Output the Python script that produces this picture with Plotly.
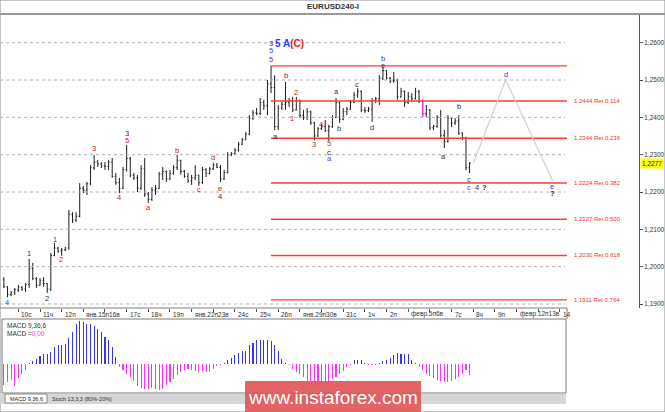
import plotly.graph_objects as go

W, H = 665, 412
FONT = "Liberation Sans, Arial, sans-serif"

# ---------------- data (EURUSD, 4H bars) ----------------
bar_open = [1.1965, 1.1946, 1.1925, 1.1930, 1.1938, 1.1945, 1.1940, 1.1952, 1.1995, 1.1968,
            1.1950, 1.1962, 1.1955, 1.1940, 1.2030, 1.2050, 1.2042, 1.2045, 1.2050, 1.2140,
            1.2125, 1.2135, 1.2210, 1.2205, 1.2222, 1.2265, 1.2280, 1.2275, 1.2270, 1.2268,
            1.2280, 1.2242, 1.2225, 1.2210, 1.2260, 1.2290, 1.2245, 1.2238, 1.2210, 1.2262,
            1.2195, 1.2180, 1.2205, 1.2210, 1.2248, 1.2255, 1.2235, 1.2250, 1.2265, 1.2285,
            1.2255, 1.2242, 1.2230, 1.2238, 1.2245, 1.2225, 1.2260, 1.2250, 1.2262, 1.2272,
            1.2266, 1.2235, 1.2252, 1.2300, 1.2303, 1.2312, 1.2328, 1.2340, 1.2355, 1.2398,
            1.2412, 1.2410, 1.2440, 1.2430, 1.2490, 1.2480, 1.2375, 1.2425, 1.2435, 1.2440,
            1.2445, 1.2420, 1.2445, 1.2405, 1.2400, 1.2415, 1.2385, 1.2350, 1.2370, 1.2375,
            1.2365, 1.2375, 1.2400, 1.2440, 1.2395, 1.2415, 1.2422, 1.2440, 1.2460, 1.2470,
            1.2420, 1.2418, 1.2422, 1.2445, 1.2450, 1.2505, 1.2525, 1.2505, 1.2497, 1.2500,
            1.2455, 1.2470, 1.2440, 1.2455, 1.2450, 1.2470, 1.2445, 1.2410, 1.2420, 1.2372,
            1.2376, 1.2400, 1.2352, 1.2335, 1.2398, 1.2385, 1.2390, 1.2358, 1.2345, 1.2265]
bar_high = [1.1972, 1.1948, 1.1935, 1.1943, 1.1951, 1.1948, 1.1956, 1.2021, 1.2010, 1.1972,
            1.1970, 1.1972, 1.1956, 1.2037, 1.2063, 1.2053, 1.2050, 1.2053, 1.2152, 1.2146,
            1.2146, 1.2224, 1.2216, 1.2227, 1.2272, 1.2299, 1.2286, 1.2280, 1.2280, 1.2286,
            1.2291, 1.2251, 1.2238, 1.2267, 1.2326, 1.2294, 1.2251, 1.2246, 1.2272, 1.2291,
            1.2200, 1.2213, 1.2219, 1.2254, 1.2267, 1.2258, 1.2259, 1.2272, 1.2299, 1.2286,
            1.2259, 1.2251, 1.2246, 1.2272, 1.2246, 1.2267, 1.2264, 1.2267, 1.2278, 1.2278,
            1.2272, 1.2259, 1.2307, 1.2307, 1.2318, 1.2334, 1.2345, 1.2361, 1.2406, 1.2420,
            1.2425, 1.2452, 1.2447, 1.2500, 1.2538, 1.2513, 1.2433, 1.2441, 1.2495, 1.2452,
            1.2455, 1.2455, 1.2448, 1.2420, 1.2425, 1.2418, 1.2388, 1.2374, 1.2382, 1.2393,
            1.2380, 1.2406, 1.2452, 1.2442, 1.2425, 1.2428, 1.2447, 1.2468, 1.2479, 1.2472,
            1.2428, 1.2428, 1.2452, 1.2455, 1.2513, 1.2535, 1.2527, 1.2508, 1.2522, 1.2503,
            1.2479, 1.2472, 1.2468, 1.2465, 1.2479, 1.2473, 1.2447, 1.2433, 1.2422, 1.2380,
            1.2406, 1.2420, 1.2366, 1.2406, 1.2400, 1.2398, 1.2406, 1.2360, 1.2348, 1.2280]
bar_low = [1.1943, 1.1918, 1.1921, 1.1924, 1.1932, 1.1935, 1.1932, 1.1943, 1.1964, 1.1943,
           1.1948, 1.1946, 1.1930, 1.1935, 1.2028, 1.2037, 1.2029, 1.2042, 1.2045, 1.2117,
           1.2120, 1.2132, 1.2197, 1.2192, 1.2219, 1.2259, 1.2267, 1.2264, 1.2259, 1.2259,
           1.2238, 1.2219, 1.2197, 1.2208, 1.2255, 1.2240, 1.2232, 1.2200, 1.2205, 1.2187,
           1.2171, 1.2176, 1.2192, 1.2208, 1.2232, 1.2227, 1.2232, 1.2246, 1.2259, 1.2246,
           1.2238, 1.2224, 1.2219, 1.2232, 1.2216, 1.2222, 1.2240, 1.2247, 1.2259, 1.2264,
           1.2227, 1.2232, 1.2250, 1.2296, 1.2299, 1.2308, 1.2326, 1.2339, 1.2352, 1.2393,
           1.2406, 1.2406, 1.2420, 1.2406, 1.2465, 1.2366, 1.2366, 1.2420, 1.2420, 1.2428,
           1.2414, 1.2418, 1.2398, 1.2393, 1.2393, 1.2380, 1.2339, 1.2348, 1.2366, 1.2361,
           1.2337, 1.2372, 1.2398, 1.2385, 1.2392, 1.2406, 1.2420, 1.2438, 1.2452, 1.2414,
           1.2412, 1.2414, 1.2388, 1.2438, 1.2433, 1.2500, 1.2500, 1.2492, 1.2492, 1.2447,
           1.2452, 1.2428, 1.2436, 1.2441, 1.2448, 1.2438, 1.2401, 1.2401, 1.2366, 1.2366,
           1.2372, 1.2345, 1.2318, 1.2332, 1.2374, 1.2380, 1.2353, 1.2339, 1.2259, 1.2251]
bar_close = [1.1946, 1.1925, 1.1930, 1.1938, 1.1945, 1.1940, 1.1952, 1.1995, 1.1968, 1.1950,
             1.1962, 1.1955, 1.1940, 1.2030, 1.2050, 1.2042, 1.2045, 1.2050, 1.2140, 1.2125,
             1.2135, 1.2210, 1.2205, 1.2222, 1.2265, 1.2280, 1.2275, 1.2270, 1.2268, 1.2280,
             1.2242, 1.2225, 1.2210, 1.2260, 1.2290, 1.2245, 1.2238, 1.2210, 1.2262, 1.2195,
             1.2180, 1.2205, 1.2210, 1.2248, 1.2255, 1.2235, 1.2250, 1.2265, 1.2285, 1.2255,
             1.2242, 1.2230, 1.2238, 1.2245, 1.2225, 1.2260, 1.2250, 1.2262, 1.2272, 1.2266,
             1.2235, 1.2252, 1.2300, 1.2303, 1.2312, 1.2328, 1.2340, 1.2355, 1.2398, 1.2412,
             1.2410, 1.2440, 1.2430, 1.2490, 1.2480, 1.2375, 1.2425, 1.2435, 1.2440, 1.2445,
             1.2420, 1.2445, 1.2405, 1.2400, 1.2415, 1.2385, 1.2350, 1.2370, 1.2375, 1.2365,
             1.2375, 1.2400, 1.2440, 1.2395, 1.2415, 1.2422, 1.2440, 1.2460, 1.2470, 1.2420,
             1.2418, 1.2422, 1.2445, 1.2450, 1.2505, 1.2525, 1.2505, 1.2497, 1.2500, 1.2455,
             1.2470, 1.2440, 1.2455, 1.2450, 1.2470, 1.2445, 1.2410, 1.2420, 1.2372, 1.2376,
             1.2400, 1.2352, 1.2335, 1.2398, 1.2385, 1.2390, 1.2358, 1.2345, 1.2265, 1.2277]
highlight_bars = [116]

macd_hist = [-0.0021, -0.0018, -0.0016, -0.0022, -0.0014, -0.0010, -0.0006, 0.0001, 0.0003, 0.0005,
             0.0008, 0.0010, 0.0010, 0.0012, 0.0017, 0.0019, 0.0019, 0.0020, 0.0026, 0.0032,
             0.0040, 0.0043, 0.0042, 0.0040, 0.0040, 0.0038, 0.0035, 0.0032, 0.0027, 0.0024,
             0.0017, 0.0007, -0.0003, -0.0006, -0.0010, -0.0013, -0.0017, -0.0022, -0.0024, -0.0025,
             -0.0025, -0.0024, -0.0025, -0.0026, -0.0025, -0.0021, -0.0018, -0.0015, -0.0011, -0.0008,
             -0.0006, -0.0005, -0.0006, -0.0007, -0.0008, -0.0007, -0.0008, -0.0008, -0.0005, -0.0002,
             -0.0001, 0.0001, 0.0004, 0.0006, 0.0009, 0.0011, 0.0013, 0.0013, 0.0019, 0.0021,
             0.0024, 0.0024, 0.0024, 0.0024, 0.0023, 0.0019, 0.0013, 0.0005, 0.0001, -0.0001,
             -0.0005, -0.0008, -0.0010, -0.0013, -0.0019, -0.0021, -0.0022, -0.0022, -0.0021, -0.0019,
             -0.0017, -0.0015, -0.0013, -0.0010, -0.0007, -0.0003, -0.0001, 0.0004, 0.0004, 0.0004,
             0.0001, -0.0001, -0.0001, -0.0001, 0.0001, 0.0003, 0.0004, 0.0006, 0.0009, 0.0011,
             0.0010, 0.0010, 0.0010, 0.0004, 0.0001, -0.0003, -0.0006, -0.0010, -0.0012, -0.0014,
             -0.0016, -0.0017, -0.0018, -0.0018, -0.0017, -0.0015, -0.0013, -0.0010, -0.0006, -0.0011]

price_ticks = [1.19, 1.20, 1.21, 1.22, 1.23, 1.24, 1.25, 1.26]
price_tick_labels = ["1,1900", "1,2000", "1,2100", "1,2200", "1,2300", "1,2400", "1,2500", "1,2600"]
last_price = 1.2277
last_price_label = "1,2277"

day_labels = ["10с", "11ч", "12п", "янв.15п16в", "", "17с", "18ч", "19п", "янв.22п23в", "",
              "24с", "25ч", "26п", "янв.29п30в", "", "31с", "1ч", "2п", "февр.5п6в", "",
              "7с", "8ч", "9п", "февр.12п13в", "", "14"]
first_day_bar = 4
bars_per_day = 6

fib_top = 1.2538
fib_levels = [1.2444, 1.2344, 1.2224, 1.2127, 1.2030, 1.1911]
fib_ratio_labels = ["0,114", "0,236", "0,382", "0,500", "0,618", "0,764"]

projection_bar = [130, 139, 152]
projection_price = [1.2277, 1.2501, 1.2230]

RED, BLUE, DARK = "#c42020", "#3c3cff", "#333333"
wave_labels = [
    ("4", 0.9, 1.1905, BLUE), ("1", 7.0, 1.2034, DARK), ("2", 12.0, 1.1916, DARK),
    ("1", 14.2, 1.2074, RED), ("2", 15.8, 1.2018, RED), ("3", 25.0, 1.2317, RED),
    ("4", 31.8, 1.2186, RED), ("3", 34.0, 1.2358, DARK), ("5", 34.0, 1.2339, RED),
    ("a", 40.0, 1.2158, RED), ("b", 48.0, 1.2311, RED), ("c", 54.0, 1.2207, RED),
    ("d", 58.0, 1.2293, RED), ("e", 59.9, 1.2210, RED), ("4", 59.9, 1.2189, DARK),
    ("3", 73.9, 1.2597, DARK), ("5", 73.9, 1.2579, BLUE), ("5", 73.9, 1.2556, "#7a3a20"),
    ("b", 78.1, 1.2511, DARK), ("a", 75.1, 1.2348, DARK), ("2", 80.9, 1.2466, RED),
    ("1", 79.9, 1.2396, RED), ("3", 86.0, 1.2326, "#a0402a"), ("4", 87.8, 1.2381, RED),
    ("5", 90.1, 1.2329, "#a0402a"), ("c", 90.1, 1.2307, DARK), ("a", 90.1, 1.2291, BLUE),
    ("a", 92.0, 1.2469, DARK), ("b", 92.8, 1.2371, DARK), ("c", 97.9, 1.2489, DARK),
    ("d", 101.9, 1.2373, DARK), ("b", 105.0, 1.2558, BLUE), ("e", 105.0, 1.2540, DARK),
    ("a", 121.9, 1.2296, DARK), ("b", 126.0, 1.2429, DARK), ("c", 128.9, 1.2234, DARK),
    ("c", 128.9, 1.2213, BLUE), ("4", 131.0, 1.2213, DARK), ("<b>?</b>", 133.0, 1.2213, DARK),
    ("d", 139.0, 1.2516, BLUE), ("e", 151.9, 1.2214, BLUE), ("<b>?</b>", 151.9, 1.2195, DARK),
]
main_wave_label = ("<span style='color:#2a3cff'>5 A</span><span style='color:#e02020'>(C)</span>", 79.2, 1.2597)

# ---------------- pixel geometry helpers ----------------
BAR0_PX, BAR_STEP_PX = 3.9, 3.61          # x pixel of the first bar, pixels per bar
P_REF, P_REF_PX, PX_PER_UNIT = 1.26, 42.7, 3733.0


def bar_at(px):
    return (px - BAR0_PX) / BAR_STEP_PX


def price_at(py):
    return P_REF - (py - P_REF_PX) / PX_PER_UNIT


def fx(px):
    return px / W


def fy(py):
    return 1 - py / H


n = len(bar_close)
bars = list(range(n))
day_ticks = [first_day_bar + bars_per_day * k for k in range(len(day_labels))]

fig = go.Figure()

# dotted price grid
grid_x = [bar_at(0), bar_at(565)]
for lv in price_ticks:
    fig.add_trace(go.Scatter(x=grid_x, y=[lv, lv], mode="lines",
                             line=dict(color="#b0b0b0", width=1, dash="dot"),
                             hoverinfo="skip", showlegend=False))

# fibonacci retracement lines
peak_bar = bar_high.index(max(bar_high))
fib_x = [peak_bar, bar_at(567)]
for lv in [fib_top] + fib_levels:
    fig.add_trace(go.Scatter(x=fib_x, y=[lv, lv], mode="lines",
                             line=dict(color="#ff3a3a", width=1.4),
                             hoverinfo="skip", showlegend=False))

# projection path
fig.add_trace(go.Scatter(x=projection_bar, y=projection_price, mode="lines",
                         line=dict(color="#d6cdd8", width=1.2),
                         hoverinfo="skip", showlegend=False))

# price bars
fig.add_trace(go.Ohlc(x=bars, open=bar_open, high=bar_high, low=bar_low, close=bar_close,
                      increasing=dict(line=dict(color="#1e1e1e", width=1)),
                      decreasing=dict(line=dict(color="#1e1e1e", width=1)),
                      tickwidth=0.3, hoverinfo="skip", showlegend=False))
fig.add_trace(go.Ohlc(x=highlight_bars,
                      open=[bar_open[i] for i in highlight_bars],
                      high=[bar_high[i] for i in highlight_bars],
                      low=[bar_low[i] for i in highlight_bars],
                      close=[bar_close[i] for i in highlight_bars],
                      increasing=dict(line=dict(color="#ff30ff", width=1.3)),
                      decreasing=dict(line=dict(color="#ff30ff", width=1.3)),
                      tickwidth=0.3, hoverinfo="skip", showlegend=False))

# MACD histogram
fig.add_trace(go.Bar(x=bars, y=macd_hist, width=0.3,
                     marker=dict(color=["#3535f5" if v > 0 else "#ff30ff" for v in macd_hist],
                                 line=dict(width=0)),
                     xaxis="x2", yaxis="y2", hoverinfo="skip", showlegend=False))

ann = []
# title
ann.append(dict(text="<b>EURUSD240-I</b>", x=0.5, y=fy(7), xref="paper", yref="paper",
                xanchor="center", yanchor="middle",
                showarrow=False, font=dict(family=FONT, size=8, color="#333")))
# day labels
for t, lab in zip(day_ticks, day_labels):
    if lab:
        ann.append(dict(text=lab, x=t + 0.3, y=fy(314), xref="x", yref="paper",
                        xanchor="left", yanchor="middle", showarrow=False,
                        font=dict(family=FONT, size=6.5, color="#333")))
# fib labels
for lv, r in zip(fib_levels, fib_ratio_labels):
    txt = f"{lv:.4f}".replace(".", ",") + " Ret " + r
    ann.append(dict(text=txt, x=bar_at(571.5), y=lv, xref="x", yref="y",
                    xanchor="left", yanchor="middle", showarrow=False,
                    font=dict(family=FONT, size=6, color="#f03030")))
# wave labels
for txt, b, p, c in wave_labels:
    ann.append(dict(text=txt, x=b, y=p, xref="x", yref="y", showarrow=False,
                    xanchor="center", yanchor="middle",
                    font=dict(family=FONT, size=7.5, color=c)))
ann.append(dict(text="<b>" + main_wave_label[0] + "</b>", x=main_wave_label[1], y=main_wave_label[2],
                xref="x", yref="y", showarrow=False, xanchor="center", yanchor="middle",
                font=dict(family=FONT, size=10)))
# current price tag
ann.append(dict(text=last_price_label, x=fx(640), y=last_price, xref="paper", yref="y",
                xanchor="left", yanchor="middle", showarrow=False, bgcolor="#ffff00",
                borderpad=1, font=dict(family=FONT, size=6.5, color="#222")))
# MACD labels
ann.append(dict(text="MACD 9,36,6", x=fx(5), y=fy(325), xref="paper", yref="paper",
                xanchor="left", yanchor="middle", showarrow=False,
                font=dict(family=FONT, size=6.5, color="#333")))
ann.append(dict(text="MACD =<span style='color:#ff30ff'>0,00</span>", x=fx(5), y=fy(333),
                xref="paper", yref="paper", xanchor="left", yanchor="middle", showarrow=False,
                font=dict(family=FONT, size=6.5, color="#333")))
# tabs
ann.append(dict(text="MACD 9,36,6", x=fx(8), y=fy(398.5), xref="paper", yref="paper",
                xanchor="left", yanchor="middle", showarrow=False,
                font=dict(family=FONT, size=5.5, color="#222")))
ann.append(dict(text="Stoch 13,3,3 (80%-20%)", x=fx(50), y=fy(398.5), xref="paper", yref="paper",
                xanchor="left", yanchor="middle", showarrow=False,
                font=dict(family=FONT, size=5.5, color="#333")))
# watermark
ann.append(dict(text="www.instaforex.com", x=fx(333), y=fy(397), xref="paper", yref="paper",
                xanchor="center", yanchor="middle", showarrow=False,
                font=dict(family=FONT, size=19, color="white")))

line_c = "#7a7a7a"
shapes = [
    dict(type="rect", xref="paper", yref="paper", x0=0, x1=1, y0=0, y1=1,
         line=dict(color="#8a8a8a", width=1)),
    dict(type="line", xref="paper", yref="paper", x0=0, x1=1, y0=fy(14), y1=fy(14),
         line=dict(color="#9a9a9a", width=2)),
    dict(type="line", xref="paper", yref="paper", x0=0, x1=fx(567), y0=fy(308), y1=fy(308),
         line=dict(color=line_c, width=1)),
    dict(type="line", xref="paper", yref="paper", x0=fx(567), x1=fx(567), y0=fy(308), y1=fy(319),
         line=dict(color=line_c, width=1)),
    dict(type="rect", xref="paper", yref="paper", x0=fx(2), x1=fx(566), y0=fy(393), y1=fy(319),
         line=dict(color=line_c, width=1)),
    dict(type="rect", xref="paper", yref="paper", x0=0, x1=fx(566), y0=fy(404), y1=fy(394),
         fillcolor="#d6d6d6", line=dict(width=0)),
    dict(type="rect", xref="paper", yref="paper", x0=fx(5), x1=fx(47), y0=fy(403), y1=fy(394),
         fillcolor="#ffffff", line=dict(color="#888", width=1)),
    dict(type="rect", xref="paper", yref="paper", x0=fx(245), x1=fx(421), y0=fy(413), y1=fy(381),
         fillcolor="#e05858", opacity=0.93, line=dict(width=0), layer="above"),
]

fig.update_layout(
    width=W, height=H, margin=dict(l=0, r=0, t=0, b=0),
    paper_bgcolor="white", plot_bgcolor="white", showlegend=False,
    bargap=0,
    xaxis=dict(domain=[fx(1), fx(639)], range=[bar_at(1), bar_at(639)],
               showgrid=False, zeroline=False, showline=False,
               ticks="outside", ticklen=3, tickcolor="#555", tickvals=day_ticks,
               showticklabels=False, rangeslider=dict(visible=False), fixedrange=True),
    yaxis=dict(domain=[fy(308), fy(14)], range=[price_at(308), price_at(14)],
               side="right", showline=True, linecolor="#555", linewidth=1,
               ticks="outside", ticklen=3, tickcolor="#555",
               tickvals=price_ticks, ticktext=price_tick_labels,
               tickfont=dict(family=FONT, size=6.5, color="#333"),
               showgrid=False, zeroline=False, fixedrange=True),
    xaxis2=dict(domain=[fx(2), fx(566)], range=[bar_at(2), bar_at(566)],
                visible=False, anchor="y2", fixedrange=True),
    yaxis2=dict(domain=[fy(393), fy(319)], range=[-0.0029, 0.0045],
                visible=False, anchor="x2", fixedrange=True),
    annotations=ann, shapes=shapes,
)

fig.write_html("out.html", config={"staticPlot": True},
               post_script="document.body.style.margin='0';document.body.style.overflow='hidden';")
